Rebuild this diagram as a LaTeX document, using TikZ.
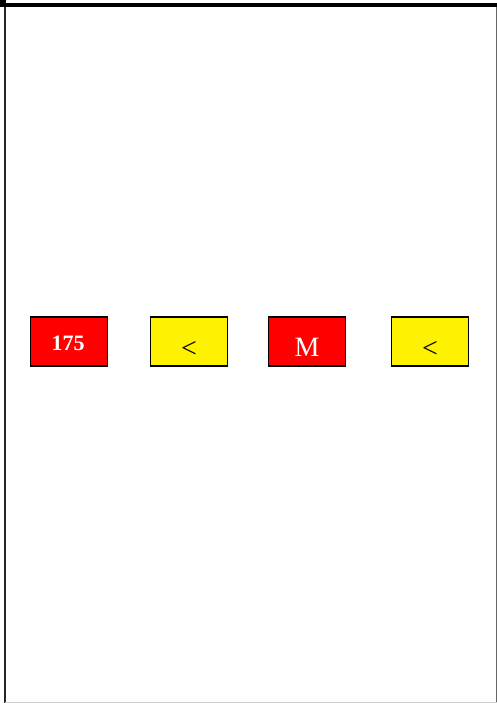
\documentclass[tikz,border=0pt]{standalone}
\usepackage{fontspec}
\setmainfont{Liberation Serif}
\begin{document}
\begin{tikzpicture}[x=1pt,y=-1pt,
  cell/.style={draw=black,line width=1.4pt,minimum width=77pt,minimum height=49pt,inner sep=0pt},
  redcell/.style={cell,fill=red},
  yellowcell/.style={cell,fill=yellow},
  lbl/.style={anchor=base,inner sep=0pt}]
\useasboundingbox (0,0) rectangle (497,703);
\fill[white] (0,0) rectangle (497,703);
% frame
\coordinate (tl) at (0,5);
\coordinate (tr) at (497,5);
\coordinate (lt) at (4.7,0);
\coordinate (lb) at (4.7,703);
\coordinate (rt) at (496,5);
\coordinate (rb) at (496,703);
\coordinate (bl) at (4.7,702.5);
\coordinate (br) at (497,702.5);
\draw[line width=2pt,black!85] (lt) -- (lb);
\draw[line width=0.8pt,black!60] (rt) -- (rb);
\draw[line width=0.8pt,black!20] (bl) -- (br);
\draw[line width=4pt,black] (tl) -- (tr);
\fill[black] (0,0) rectangle (6,7);
% cells
\node[redcell] (c1) at (69,341.5) {};
\node[yellowcell] (c2) at (189,341.5) {};
\node[redcell] (c3) at (307,341.5) {};
\node[yellowcell] (c4) at (430,341.5) {};
\node[lbl,text=white,font=\fontsize{22}{22}\selectfont\bfseries] (t1) at (68,350) {175};
\node[lbl,text=black,font=\fontsize{28}{28}\selectfont] (t2) at (189,357) {<};
\node[lbl,text=white,font=\fontsize{28}{28}\selectfont] (t3) at (307,356) {M};
\node[lbl,text=black,font=\fontsize{28}{28}\selectfont] (t4) at (430,357) {<};
\end{tikzpicture}
\end{document}
